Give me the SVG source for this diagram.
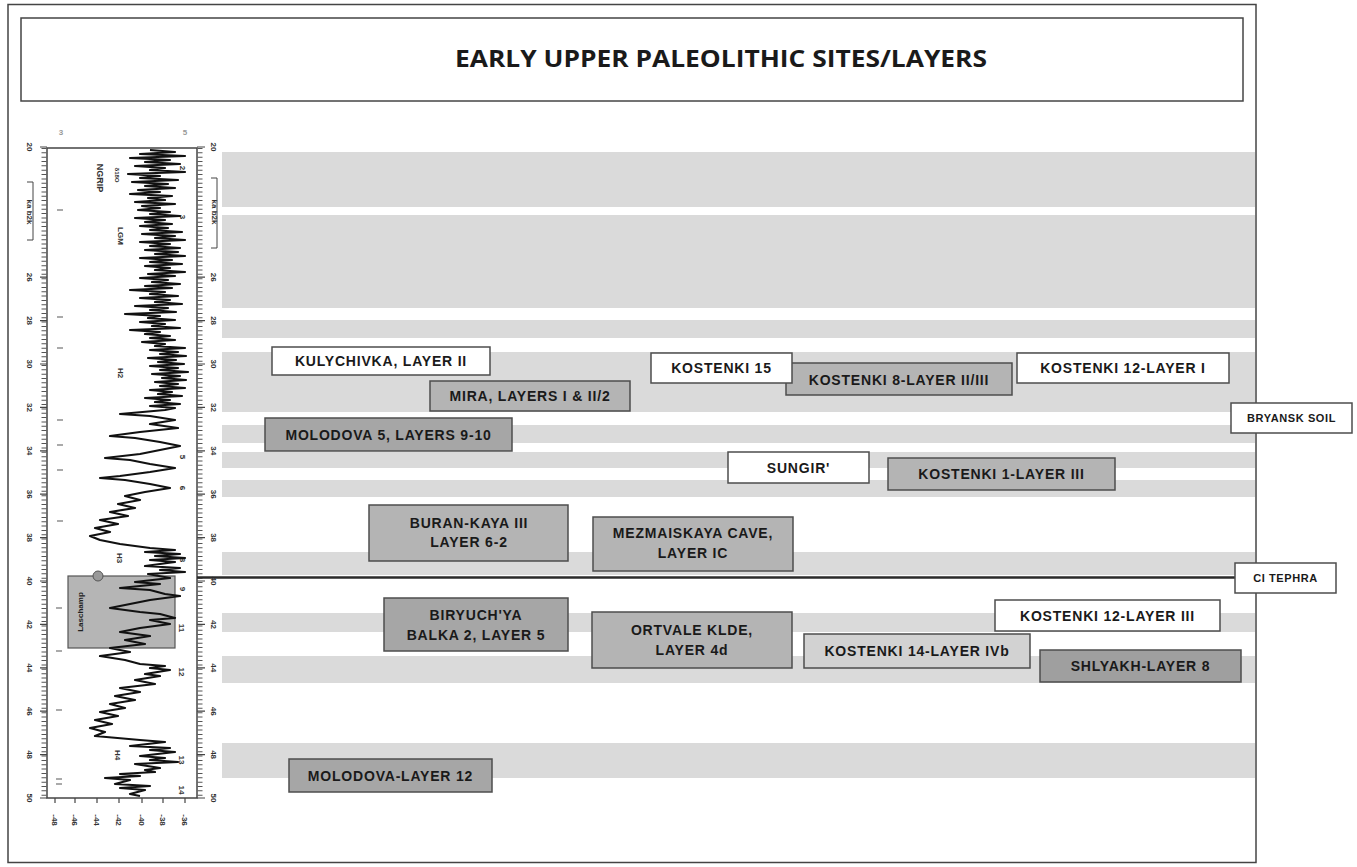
<svg xmlns="http://www.w3.org/2000/svg" width="1357" height="867" viewBox="0 0 1357 867">
<style>
.band{fill:#dadada}
.box{stroke:#4d4d4d;stroke-width:1.5}
.w{fill:#ffffff}
.g1{fill:#b4b4b4}
.g2{fill:#a6a6a6}
.g3{fill:#d2d2d2}
.lbl{font-family:"Liberation Sans",Arial,sans-serif;font-weight:bold;font-size:14px;letter-spacing:0.8px;fill:#1a1a1a;text-anchor:middle}
.sm{font-size:11px;letter-spacing:0.6px}
.ax{font-family:"Liberation Sans",Arial,sans-serif;font-size:8px;fill:#333;text-anchor:middle;font-weight:bold}
.faint{fill:#aaaaaa}
</style>
<rect x="0" y="0" width="1357" height="867" fill="#ffffff"/>
<!-- frame -->
<rect x="8" y="4.5" width="1248" height="858" fill="none" stroke="#444" stroke-width="1.5"/>
<g id="title">
<rect x="21" y="18" width="1222" height="83" fill="#ffffff" stroke="#444" stroke-width="1.5"/>
<text x="721" y="67" font-family="'Open Sans','Liberation Sans',sans-serif" font-weight="bold" font-size="23" fill="#1a1a1a" text-anchor="middle" textLength="532" lengthAdjust="spacingAndGlyphs">EARLY UPPER PALEOLITHIC SITES/LAYERS</text>
</g>
<!-- bands -->
<g id="bands">
<rect class="band" x="222" y="152" width="1033" height="55"/>
<rect class="band" x="222" y="215" width="1033" height="93"/>
<rect class="band" x="222" y="320" width="1033" height="18"/>
<rect class="band" x="222" y="352" width="1033" height="60"/>
<rect class="band" x="222" y="425" width="1033" height="18"/>
<rect class="band" x="222" y="452" width="1033" height="16"/>
<rect class="band" x="222" y="480" width="1033" height="17"/>
<rect class="band" x="222" y="552" width="1033" height="23"/>
<rect class="band" x="222" y="613" width="1033" height="19"/>
<rect class="band" x="222" y="656" width="1033" height="27"/>
<rect class="band" x="222" y="743" width="1033" height="35"/>
</g>
<!-- NGRIP panel -->
<g id="ngrip">
<rect x="68" y="576" width="107" height="72" fill="#b5b5b5" stroke="#555" stroke-width="1.2"/>
<text transform="translate(83,612) rotate(-90)" font-family="'Liberation Sans',sans-serif" font-weight="bold" font-size="8" fill="#222" text-anchor="middle">Laschamp</text>
<rect x="47" y="148" width="150" height="650" fill="none" stroke="#444" stroke-width="1.5"/>
<line x1="44" y1="148" x2="44" y2="798" stroke="#555" stroke-width="5" stroke-dasharray="1 3.34"/>
<line x1="200" y1="148" x2="200" y2="798" stroke="#555" stroke-width="5" stroke-dasharray="1 3.34"/>
<path d="M40,147H47M40,277.2H47M40,320.6H47M40,364H47M40,407.4H47M40,450.8H47M40,494.2H47M40,537.6H47M40,581H47M40,624.4H47M40,667.8H47M40,711.2H47M40,754.6H47M40,798H47M197,147H205M197,277.2H205M197,320.6H205M197,364H205M197,407.4H205M197,450.8H205M197,494.2H205M197,537.6H205M197,581H205M197,624.4H205M197,667.8H205M197,711.2H205M197,754.6H205M197,798H205M55,798V803M75,798V803M97,798V803M119,798V803M142,798V803M163,798V803M185,798V803" stroke="#444" stroke-width="1.2" fill="none"/>
<g class="ax">
<text transform="translate(30,147) rotate(90)" dy="3">20</text>
<text transform="translate(30,277.2) rotate(90)" dy="3">26</text>
<text transform="translate(30,320.6) rotate(90)" dy="3">28</text>
<text transform="translate(30,364) rotate(90)" dy="3">30</text>
<text transform="translate(30,407.4) rotate(90)" dy="3">32</text>
<text transform="translate(30,450.8) rotate(90)" dy="3">34</text>
<text transform="translate(30,494.2) rotate(90)" dy="3">36</text>
<text transform="translate(30,537.6) rotate(90)" dy="3">38</text>
<text transform="translate(30,581) rotate(90)" dy="3">40</text>
<text transform="translate(30,624.4) rotate(90)" dy="3">42</text>
<text transform="translate(30,667.8) rotate(90)" dy="3">44</text>
<text transform="translate(30,711.2) rotate(90)" dy="3">46</text>
<text transform="translate(30,754.6) rotate(90)" dy="3">48</text>
<text transform="translate(30,798) rotate(90)" dy="3">50</text>
<text transform="translate(214,147) rotate(90)" dy="3">20</text>
<text transform="translate(214,277.2) rotate(90)" dy="3">26</text>
<text transform="translate(214,320.6) rotate(90)" dy="3">28</text>
<text transform="translate(214,364) rotate(90)" dy="3">30</text>
<text transform="translate(214,407.4) rotate(90)" dy="3">32</text>
<text transform="translate(214,450.8) rotate(90)" dy="3">34</text>
<text transform="translate(214,494.2) rotate(90)" dy="3">36</text>
<text transform="translate(214,537.6) rotate(90)" dy="3">38</text>
<text transform="translate(214,581) rotate(90)" dy="3">40</text>
<text transform="translate(214,624.4) rotate(90)" dy="3">42</text>
<text transform="translate(214,667.8) rotate(90)" dy="3">44</text>
<text transform="translate(214,711.2) rotate(90)" dy="3">46</text>
<text transform="translate(214,754.6) rotate(90)" dy="3">48</text>
<text transform="translate(214,798) rotate(90)" dy="3">50</text>
<text transform="translate(30,212) rotate(90)" dy="3">ka b2k</text>
<text transform="translate(215,212) rotate(90)" dy="3">ka b2k</text>
<text transform="translate(55,820) rotate(90)" dy="3">-48</text>
<text transform="translate(75,820) rotate(90)" dy="3">-46</text>
<text transform="translate(97,820) rotate(90)" dy="3">-44</text>
<text transform="translate(119,820) rotate(90)" dy="3">-42</text>
<text transform="translate(142,820) rotate(90)" dy="3">-40</text>
<text transform="translate(163,820) rotate(90)" dy="3">-38</text>
<text transform="translate(185,820) rotate(90)" dy="3">-36</text>
<text x="61" y="135" fill="#999">3</text>
<text x="185" y="135" fill="#999">5</text>
<text transform="translate(100,178) rotate(90)" dy="3" font-size="9">NGRIP</text>
<text transform="translate(117,175) rotate(90)" dy="2" font-size="6">δ18O</text>
<text transform="translate(121,236) rotate(90)" dy="3">LGM</text>
<text transform="translate(121,373) rotate(90)" dy="3">H2</text>
<text transform="translate(120,558) rotate(90)" dy="3">H3</text>
<text transform="translate(118,755) rotate(90)" dy="3">H4</text>
<text transform="translate(183,168) rotate(90)" dy="3">2</text>
<text transform="translate(183,217) rotate(90)" dy="3">3</text>
<text transform="translate(183,457) rotate(90)" dy="3">5</text>
<text transform="translate(183,488) rotate(90)" dy="3">6</text>
<text transform="translate(183,560) rotate(90)" dy="3">8</text>
<text transform="translate(183,589) rotate(90)" dy="3">9</text>
<text transform="translate(182,628) rotate(90)" dy="3">11</text>
<text transform="translate(182,672) rotate(90)" dy="3">12</text>
<text transform="translate(182,760) rotate(90)" dy="3">13</text>
<text transform="translate(182,790) rotate(90)" dy="3">14</text>
</g>
<path d="M27,182H33V240H27M211,178H217V248H211" fill="none" stroke="#444" stroke-width="1"/>
<g class="faint">
<rect x="57" y="209" width="6" height="2"/><rect x="57" y="316" width="6" height="2"/><rect x="57" y="347" width="6" height="2"/><rect x="57" y="419" width="6" height="2"/><rect x="57" y="444" width="6" height="2"/><rect x="57" y="469" width="6" height="2"/><rect x="57" y="520" width="6" height="2"/><rect x="56" y="607" width="6" height="2"/><rect x="56" y="650" width="6" height="2"/><rect x="56" y="709" width="6" height="2"/><rect x="56" y="778" width="6" height="2"/><rect x="56" y="783" width="6" height="2"/>
</g>
<polyline fill="none" stroke="#111" stroke-width="2.2" stroke-linejoin="round" points="150,150 175,152 140,154 185,156 130,158 170,160 145,162 180,164 135,166 165,168 150,170 185,172 128,174 160,176 140,178 178,180 132,182 168,184 145,186 175,188 138,190 160,192 130,194 172,196 148,198 165,200 135,202 175,204 142,206 160,208 138,210 170,212 150,214 180,216 135,218 165,220 145,222 172,224 140,226 168,228 150,230 182,232 142,234 175,236 155,238 185,240 140,242 170,244 150,246 180,248 145,250 178,252 155,254 185,256 140,258 172,260 150,262 182,264 145,266 170,268 155,270 185,272 148,274 175,276 140,278 168,280 152,282 180,284 145,286 172,288 130,290 165,292 150,294 178,296 140,298 170,300 155,302 182,304 135,306 168,308 150,310 176,312 125,314 160,316 148,318 175,320 140,322 165,324 152,326 180,328 130,330 160,332 145,334 170,336 150,338 175,340 142,342 165,344 155,346 185,348 150,350 178,352 160,354 186,356 148,358 176,360 158,362 184,364 150,366 178,368 160,370 188,372 152,374 180,376 162,378 186,380 155,382 178,384 160,386 185,388 150,390 172,392 158,394 182,396 145,398 170,400 155,402 180,404 150,406 175,408 165,410 120,414 150,416 175,420 150,424 178,428 140,432 110,436 135,438 160,442 180,446 160,450 140,454 105,458 130,460 150,464 175,468 150,472 120,476 100,478 125,480 150,484 170,488 145,492 125,496 140,500 118,504 135,508 110,512 128,516 100,520 118,524 95,528 110,532 90,536 100,540 120,544 150,548 175,550 145,552 180,554 155,556 185,558 150,560 175,562 145,566 180,568 160,570 185,572 148,574 170,578 135,582 160,584 120,588 150,590 165,594 180,596 150,600 130,604 110,608 140,612 160,614 175,618 150,620 170,624 140,628 120,632 150,636 125,640 145,644 110,648 130,652 100,656 125,660 140,664 165,666 150,668 170,670 145,674 160,676 135,680 155,684 120,688 140,692 115,696 135,700 110,704 125,708 100,712 118,716 95,720 112,724 90,728 105,732 95,736 140,740 165,742 130,746 170,748 150,750 175,752 140,756 165,758 150,760 178,762 135,764 160,768 145,770 155,772 120,774 140,776 105,778 130,780 115,784 150,786 120,788 145,790 130,794 140,796"/>
<circle cx="98" cy="576" r="5" fill="#999" stroke="#555" stroke-width="1"/>
</g>
<!-- connectors -->
<g id="connectors">
<line x1="197" y1="577.5" x2="1235" y2="577.5" stroke="#2a2a2a" stroke-width="2.5"/>
</g>
<!-- nodes -->
<g id="kulychivka"><rect class="box w" x="272" y="347" width="218" height="28"/><text class="lbl" x="381" y="366">KULYCHIVKA, LAYER II</text></g>
<g id="mira"><rect class="box g1" x="430" y="381" width="200" height="30"/><text class="lbl" x="530" y="401">MIRA, LAYERS I &amp; II/2</text></g>
<g id="molodova5"><rect class="box g2" x="265" y="418" width="247" height="33"/><text class="lbl" x="388.5" y="440">MOLODOVA 5, LAYERS 9-10</text></g>
<g id="kostenki8"><rect class="box g1" x="786" y="363" width="226" height="32"/><text class="lbl" x="899" y="385">KOSTENKI 8-LAYER II/III</text></g>
<g id="kostenki15"><rect class="box w" x="651" y="353" width="141" height="30"/><text class="lbl" x="721.5" y="373">KOSTENKI 15</text></g>
<g id="kostenki12-1"><rect class="box w" x="1017" y="353" width="212" height="30"/><text class="lbl" x="1123" y="373">KOSTENKI 12-LAYER I</text></g>
<g id="bryansk"><rect class="box w" x="1231" y="403" width="121" height="30"/><text class="lbl sm" x="1291.5" y="422">BRYANSK SOIL</text></g>
<g id="sungir"><rect class="box w" x="728" y="452" width="141" height="31"/><text class="lbl" x="798.5" y="473">SUNGIR'</text></g>
<g id="kostenki1"><rect class="box g1" x="888" y="458" width="227" height="32"/><text class="lbl" x="1001.5" y="479">KOSTENKI 1-LAYER III</text></g>
<g id="burankaya"><rect class="box g1" x="369" y="505" width="199" height="56"/><text class="lbl" x="469" y="528">BURAN-KAYA III</text><text class="lbl" x="469" y="547">LAYER 6-2</text></g>
<g id="mezmaiskaya"><rect class="box g1" x="593" y="517" width="200" height="54"/><text class="lbl" x="693" y="538">MEZMAISKAYA CAVE,</text><text class="lbl" x="693" y="558">LAYER IC</text></g>
<g id="citephra"><rect class="box w" x="1235" y="563" width="101" height="30"/><text class="lbl sm" x="1285.5" y="582">CI TEPHRA</text></g>
<g id="biryuchya"><rect class="box g2" x="384" y="598" width="184" height="53"/><text class="lbl" x="476" y="620">BIRYUCH'YA</text><text class="lbl" x="476" y="640">BALKA 2, LAYER 5</text></g>
<g id="ortvale"><rect class="box g1" x="592" y="612" width="200" height="56"/><text class="lbl" x="692" y="635">ORTVALE KLDE,</text><text class="lbl" x="692" y="655">LAYER 4d</text></g>
<g id="kostenki12-3"><rect class="box w" x="995" y="600" width="225" height="31"/><text class="lbl" x="1107.5" y="621">KOSTENKI 12-LAYER III</text></g>
<g id="kostenki14"><rect class="box g3" x="804" y="634" width="226" height="34"/><text class="lbl" x="917" y="656">KOSTENKI 14-LAYER IVb</text></g>
<g id="shlyakh"><rect class="box" fill="#9f9f9f" x="1040" y="650" width="201" height="32"/><text class="lbl" x="1140.5" y="671">SHLYAKH-LAYER 8</text></g>
<g id="molodova12"><rect class="box g2" x="289" y="759" width="203" height="33"/><text class="lbl" x="390.5" y="781">MOLODOVA-LAYER 12</text></g>
</svg>
